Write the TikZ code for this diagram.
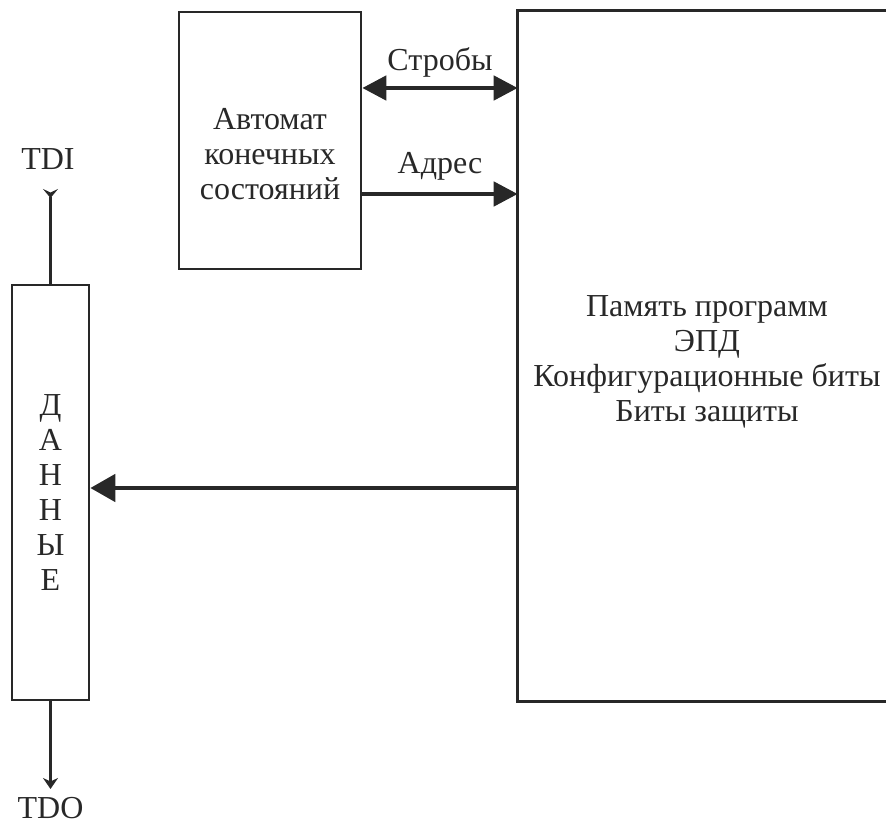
\documentclass[tikz,border=0pt]{standalone}
\usepackage{fontspec}
\setmainfont{Liberation Serif}
\usetikzlibrary{arrows.meta,positioning}
\definecolor{inkgray}{RGB}{40,40,40}

\begin{document}
\begin{tikzpicture}[x=1pt, y=-1pt, line width=2.6pt, draw=inkgray, text=inkgray,
  every node/.style={font=\fontsize{32}{35}\selectfont, inner sep=0pt},
  block/.style={draw, rectangle, minimum width=#1},
  bus/.style={line width=4.6pt, -{Triangle[length=24pt,width=24pt]}},
  pin/.style={line width=2.6pt}]
  \useasboundingbox (0,0) rectangle (886,829);

  % blocks
  \node[block=182pt, minimum height=257pt] (fsm) at (270,140.5) {};
  \node[align=center] (fsmtext) at (270,154) {Автомат\\конечных\\состояний};
  \node[block=77pt, minimum height=415pt, align=center] (data) at (50.5,492.5) {Д\\А\\Н\\Н\\Ы\\Е};
  \node[minimum width=367pt, minimum height=688pt] (mem) at (702.5,356) {};
  \draw (mem.north east) -- (mem.north west) -- (mem.south west) -- (mem.south east);
  \node[align=center] (memtext) at (707,362) {Память программ\\ЭПД\\Конфигурационные биты\\Биты защиты};

  % serial pins
  \node (tdi) at (48,159) {TDI};
  \node (tdo) at (50.5,808) {TDO};
  \coordinate (tdiin) at (50.5,189);
  \coordinate (tdoout) at (50.5,789);
  \draw[pin, {Stealth[length=9pt,width=15pt,inset=3.5pt,reversed]}-] (tdiin) -- (data.north);
  \draw[pin, -{Stealth[length=11pt,width=15pt,inset=3.5pt]}] (data.south) -- (tdoout);

  % buses
  \draw[bus, {Triangle[length=24pt,width=24pt]}-{Triangle[length=24pt,width=24pt]}]
    (fsm.east |- 0,88) -- (mem.west |- 0,88) node[midway, above=8pt] {Стробы};
  \draw[bus] (fsm.east |- 0,194) -- (mem.west |- 0,194) node[midway, above=11pt] {Адрес};
  \draw[line width=4.6pt, -{Triangle[length=25pt,width=27pt]}] (mem.west |- 0,488) -- (data.east |- 0,488);
\end{tikzpicture}
\end{document}
